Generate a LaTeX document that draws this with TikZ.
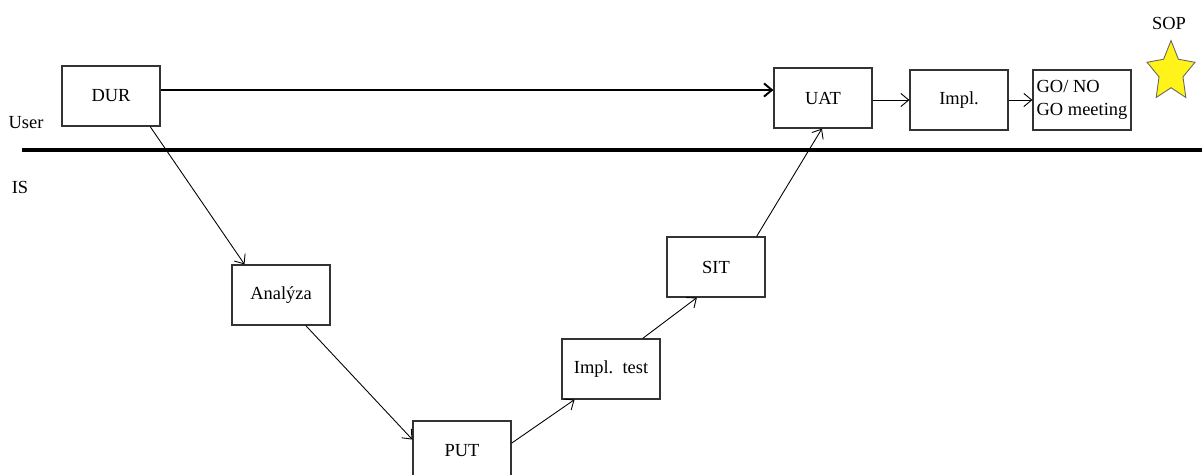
\documentclass[tikz,border=0pt]{standalone}
\usepackage{fontspec}
\setmainfont{Liberation Serif}
\usetikzlibrary{shapes.geometric,arrows.meta}

\begin{document}
\begin{tikzpicture}[x=0.02cm, y=-0.02cm,
    >={Straight Barb[length=4.5pt,width=7.5pt]},
    font=\fontsize{10.5}{13.5}\selectfont,
    stage/.style={draw=black!80, line width=0.7pt, minimum width=1.96cm,
      minimum height=1.2cm, align=center, inner sep=2pt},
    link/.style={->, line width=0.5pt}]
  \useasboundingbox (0,0) rectangle (1202,474);

  % user side
  \node[stage] (dur) at (111,96) {DUR};
  \node[stage] (uat) at (823,98) {UAT};
  \node[stage] (impl) at (959,100) {Impl.};
  \node[stage, align=left] (go) at (1082,100) {GO/ NO\\GO meeting};

  % labels
  \node (user) at (26,123) {User};
  \node (is) at (20,187) {IS};
  \node (sop) at (1169,23) {SOP};
  \begin{scope}[shift={(1171,72)}, xscale=0.8]
    \node[star, star points=5, star point ratio=2.0, draw=black!60,
      line width=0.5pt, fill=yellow!90!white, minimum size=1.26cm,
      inner sep=0pt, transform shape] (goal) at (0,0) {};
  \end{scope}

  % IS side
  \node[stage] (analyza) at (281,295) {Analýza};
  \node[stage] (put) at (462,451) {PUT};
  \node[stage] (impltest) at (611,369) {Impl.\ \ test};
  \node[stage] (sit) at (716,267) {SIT};

  % separator
  \coordinate (sepL) at (22,150);
  \coordinate (sepR) at (1202,150);
  \draw[line width=1.8pt] (sepL) -- (sepR);

  % connectors
  \coordinate (mainline) at (0,90);
  \draw[->, line width=1.1pt] (dur.east |- mainline) -- (uat.west |- mainline);
  \draw[link] (uat.east |- impl.west) -- (impl.west);
  \draw[link] (impl.east) -- (go.west);
  \draw[link] (dur.-38) -- (analyza.140);
  \draw[link] (analyza.-51) -- (put.167);
  \draw[link] (put.9) -- (impltest.-140);
  \draw[link] (impltest.44) -- (sit.-122);
  \draw[link] (sit.37) -- (uat.-92);
\end{tikzpicture}
\end{document}
